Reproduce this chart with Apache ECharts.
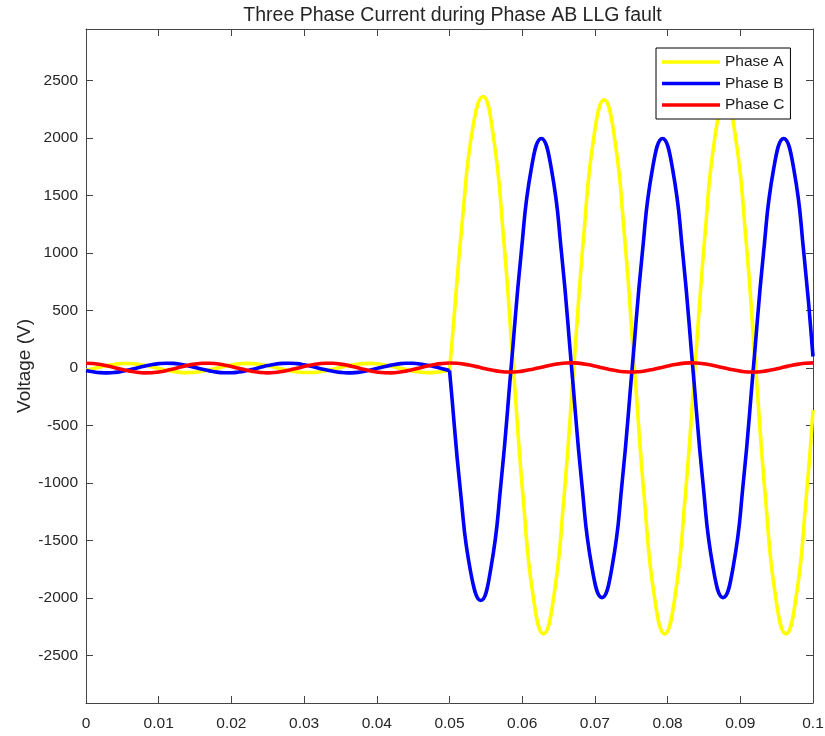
<!DOCTYPE html>
<html>
<head>
<meta charset="utf-8">
<title>Three Phase Current during Phase AB LLG fault</title>
<script src="https://cdn.jsdelivr.net/npm/echarts@6/dist/echarts.min.js"></script>
<style>
  html, body { margin: 0; padding: 0; background: #fff; }
  #chart { width: 825px; height: 736px; }
</style>
</head>
<body>
<div id="chart"></div>
<script>
// Sample instants (s), 1 ms apart
const time = [
  0, 0.001, 0.002, 0.003, 0.004, 0.005, 0.006, 0.007, 0.008, 0.009,
  0.010, 0.011, 0.012, 0.013, 0.014, 0.015, 0.016, 0.017, 0.018, 0.019,
  0.020, 0.021, 0.022, 0.023, 0.024, 0.025, 0.026, 0.027, 0.028, 0.029,
  0.030, 0.031, 0.032, 0.033, 0.034, 0.035, 0.036, 0.037, 0.038, 0.039,
  0.040, 0.041, 0.042, 0.043, 0.044, 0.045, 0.046, 0.047, 0.048, 0.049,
  0.050, 0.051, 0.052, 0.053, 0.054, 0.055, 0.056, 0.057, 0.058, 0.059,
  0.060, 0.061, 0.062, 0.063, 0.064, 0.065, 0.066, 0.067, 0.068, 0.069,
  0.070, 0.071, 0.072, 0.073, 0.074, 0.075, 0.076, 0.077, 0.078, 0.079,
  0.080, 0.081, 0.082, 0.083, 0.084, 0.085, 0.086, 0.087, 0.088, 0.089,
  0.090, 0.091, 0.092, 0.093, 0.094, 0.095, 0.096, 0.097, 0.098, 0.099,
  0.100
];

// Phase values before the fault (t = 0 .. 0.05 s, on the 1 ms grid)
const phaseAPre = [-20,-6,9,23,33,39,39,34,24,11,-4,-19,-30,-38,-40,-37,-28,-16,-1,14,27,36,40,38,31,20,6,-9,-23,-33,-39,-39,-34,-24,-11,4,19,30,38,40,37,28,16,1,-14,-27,-36,-40,-38,-31,-20];
const phaseBPre = [-21,-33,-40,-42,-38,-28,-15,1,16,29,38,42,40,32,19,4,-11,-25,-36,-41,-41,-35,-24,-10,6,21,33,40,42,38,28,15,-1,-16,-29,-38,-42,-40,-32,-19,-4,11,25,36,41,41,35,24,10,-6,-21];
const phaseCPre = [42,39,31,18,3,-13,-27,-37,-42,-41,-34,-23,-8,8,23,34,41,42,37,27,13,-3,-18,-31,-39,-42,-39,-31,-18,-3,13,27,37,42,41,34,23,8,-8,-23,-34,-41,-42,-37,-27,-13,3,18,31,39,43];

// Faulted phases A and B: readings at the crests, troughs, zero crossings and between
const phaseAFaultTime = [0.05, 0.05043, 0.05182, 0.05321, 0.05460, 0.05599, 0.05738, 0.05877, 0.06016, 0.06154,
  0.06293, 0.06432, 0.06571, 0.06710, 0.06849, 0.06988, 0.07127, 0.07266, 0.07404, 0.07543,
  0.07682, 0.07821, 0.07960, 0.08099, 0.08238, 0.08377, 0.08516, 0.08654, 0.08793, 0.08932,
  0.09071, 0.09210, 0.09349, 0.09488, 0.09627, 0.09766, 0.09904, 0.1];
const phaseAFault = [-20, 290, 1320, 2090, 2360, 2034, 1175, 10, -1150, -1999,
  -2310, -1999, -1150, 10, 1170, 2019, 2330, 2019, 1170, 10,
  -1150, -1999, -2310, -1999, -1150, 10, 1170, 2019, 2330, 2019,
  1170, 10, -1150, -1999, -2310, -1999, -1150, -367];

const phaseBFaultTime = [0.05, 0.05013, 0.05152, 0.05291, 0.05430, 0.05569, 0.05708, 0.05847, 0.05986, 0.06124,
  0.06263, 0.06402, 0.06541, 0.06680, 0.06819, 0.06958, 0.07097, 0.07236, 0.07374, 0.07513,
  0.07652, 0.07791, 0.07930, 0.08069, 0.08208, 0.08347, 0.08486, 0.08624, 0.08763, 0.08902,
  0.09041, 0.09180, 0.09319, 0.09458, 0.09597, 0.09736, 0.09874, 0.1];
const phaseBFault = [-21, -110, -1078, -1773, -2020, -1740, -1003, 0, 998, 1728,
  1995, 1728, 998, 0, -998, -1728, -1995, -1728, -998, 0,
  998, 1728, 1995, 1728, 998, 0, -998, -1728, -1995, -1728,
  -998, 0, 998, 1728, 1995, 1728, 998, 100];

// Healthy phase C during the fault (t = 0.05 .. 0.1 s, on the 1 ms grid)
const phaseCFault = [43,42,34,22,8,-7,-20,-30,-35,-34,-27,-16,-2,12,26,37,44,45,40,30,17,2,-12,-24,-32,-35,-32,-24,-12,2,17,30,40,45,44,37,26,12,-2,-16,-27,-34,-35,-30,-20,-7,8,22,34,42,45];

const phaseNames = ['Phase A', 'Phase B', 'Phase C'];
const yTicks = [-2500, -2000, -1500, -1000, -500, 0, 500, 1000, 1500, 2000, 2500];

const FONT = "'Liberation Sans', Arial, Helvetica, sans-serif";
const AXIS_COLOR = '#444';
const TEXT_COLOR = '#262626';

const timePre = time.slice(0, 51);
const timeFault = time.slice(50);
const pairs = (ts, vs) => vs.map((v, i) => [ts[i], v]);

function trace(name, color, ts, vs) {
  return {
    type: 'line',
    name: name,
    data: pairs(ts, vs),
    xAxisIndex: 0,
    yAxisIndex: 0,
    smooth: true,
    symbol: 'none',
    lineStyle: { color: color, width: 3.6 },
    itemStyle: { color: color },
    emphasis: { disabled: true }
  };
}

const frameAxis = {
  axisLine: { show: true, onZero: false, lineStyle: { color: AXIS_COLOR, width: 1 } },
  axisTick: { show: true, inside: true, length: 7, lineStyle: { color: AXIS_COLOR, width: 1 } },
  splitLine: { show: false }
};

const chart = echarts.init(document.getElementById('chart'), null, { renderer: 'canvas' });

chart.setOption({
  animation: false,
  backgroundColor: '#fff',
  textStyle: { fontFamily: FONT },
  title: {
    text: 'Three Phase Current during Phase AB LLG fault',
    left: 447.5,
    top: 1,
    textAlign: 'center',
    textStyle: { fontFamily: FONT, fontSize: 19.5, fontWeight: 'normal', color: TEXT_COLOR }
  },
  legend: {
    data: phaseNames,
    orient: 'vertical',
    left: 656,
    top: 48,
    padding: 6,
    itemWidth: 58,
    itemHeight: 3.6,
    itemGap: 5.5,
    itemTextGap: 5,
    icon: 'rect',
    selectedMode: false,
    backgroundColor: '#fff',
    borderColor: '#000',
    borderWidth: 1,
    borderRadius: 0,
    textStyle: { fontFamily: FONT, fontSize: 15.5, color: '#1a1a1a' }
  },
  grid: { left: 86, right: 12, top: 29, bottom: 33, containLabel: false, outerBoundsMode: 'none' },
  xAxis: [
    Object.assign({
      type: 'value', position: 'bottom', min: 0, max: 0.1, interval: 0.01,
      axisLabel: {
        color: TEXT_COLOR, fontFamily: FONT, fontSize: 15.5, margin: 13,
        formatter: v => String(+v.toFixed(2))
      }
    }, frameAxis),
    Object.assign({
      type: 'value', position: 'top', min: 0, max: 0.1, interval: 0.01,
      axisLabel: { show: false }
    }, frameAxis)
  ],
  yAxis: [
    Object.assign({}, frameAxis, {
      type: 'value', position: 'left', min: -2911, max: 2946,
      axisTick: Object.assign({}, frameAxis.axisTick, { customValues: yTicks }),
      axisLabel: {
        customValues: yTicks, color: TEXT_COLOR, fontFamily: FONT, fontSize: 15.5, margin: 8,
        formatter: v => String(v)
      },
      name: 'Voltage (V)',
      nameLocation: 'middle',
      nameRotate: 90,
      nameGap: 52,
      nameMoveOverlap: false,
      nameTextStyle: { fontFamily: FONT, fontSize: 19, color: TEXT_COLOR }
    }),
    Object.assign({}, frameAxis, {
      type: 'value', position: 'right', min: -2911, max: 2946,
      axisTick: Object.assign({}, frameAxis.axisTick, { customValues: yTicks }),
      axisLabel: { show: false, customValues: yTicks }
    })
  ],
  series: [
    trace(phaseNames[0], '#ffff00', timePre, phaseAPre),
    trace(phaseNames[0], '#ffff00', phaseAFaultTime, phaseAFault),
    trace(phaseNames[1], '#0000ff', timePre, phaseBPre),
    trace(phaseNames[1], '#0000ff', phaseBFaultTime, phaseBFault),
    trace(phaseNames[2], '#ff0000', timePre, phaseCPre),
    trace(phaseNames[2], '#ff0000', timeFault, phaseCFault)
  ]
});
</script>
</body>
</html>
